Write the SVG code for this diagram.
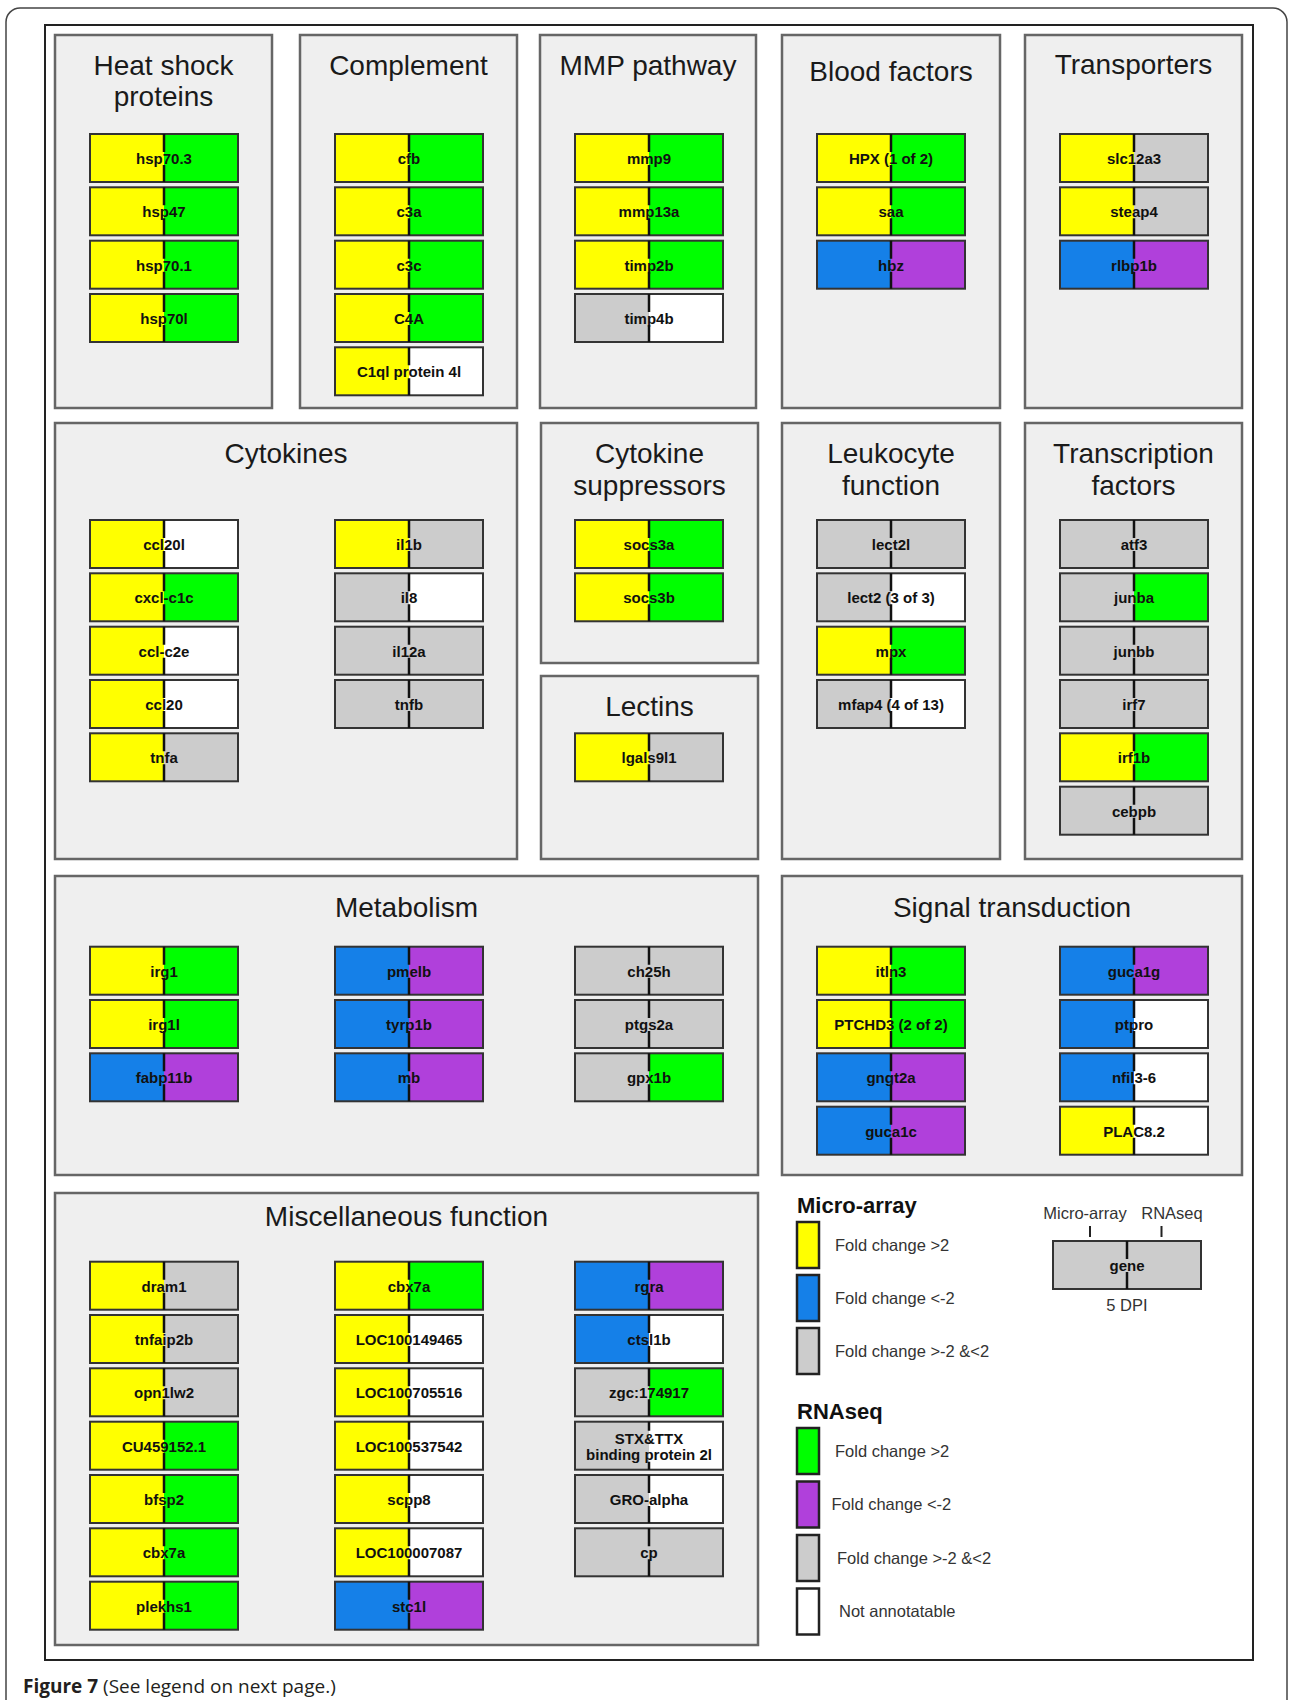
<svg xmlns="http://www.w3.org/2000/svg" xmlns:xlink="http://www.w3.org/1999/xlink" width="1289" height="1700" viewBox="0 0 1289 1700">
<style>
.Y{fill:#ffff00}.G{fill:#00ff00}.B{fill:#1580e8}.P{fill:#b040db}.R{fill:#cccccc}.W{fill:#ffffff}
.fr{fill:none;stroke:#333;stroke-width:2}
.dv{stroke:#111;stroke-width:2.5;fill:none}
.pn{fill:#efefef;stroke:#666;stroke-width:2.5}
.tt{font-family:"Liberation Sans",Arial,sans-serif;font-size:28px;fill:#1a1a1a;text-anchor:middle}
.gl{font-family:"Liberation Sans",Arial,sans-serif;font-weight:bold;font-size:15px;fill:#111;text-anchor:middle}
.lt{font-family:"Liberation Sans",Arial,sans-serif;font-weight:bold;font-size:22px;fill:#111}
.ll{font-family:"Liberation Sans",Arial,sans-serif;font-size:16.5px;fill:#333}
.sw{stroke:#222;stroke-width:2.5}
.cap{font-family:"Open Sans","Liberation Sans",sans-serif;font-size:19px;fill:#231f20}
</style>
<defs>
<g id="fr"><rect class="fr" width="148" height="48"/><path class="dv" d="M74 0V18M74 31V48"/></g>
</defs>
<rect width="1289" height="1700" fill="#fff"/>
<rect x="6" y="8" width="1281" height="1720" rx="14" fill="none" stroke="#444" stroke-width="1.5"/>
<rect x="45" y="25" width="1208" height="1635" fill="#fff" stroke="#222" stroke-width="2"/>

<g id="panels">
<g id="p-heat"><rect class="pn" x="55" y="35" width="217" height="373"/><text class="tt" x="163.5" y="75">Heat shock</text><text class="tt" x="163.5" y="106">proteins</text></g>
<g id="p-complement"><rect class="pn" x="300" y="35" width="217" height="373"/><text class="tt" x="408.5" y="75">Complement</text></g>
<g id="p-mmp"><rect class="pn" x="540" y="35" width="216" height="373"/><text class="tt" x="648" y="75">MMP pathway</text></g>
<g id="p-blood"><rect class="pn" x="782" y="35" width="218" height="373"/><text class="tt" x="891" y="81">Blood factors</text></g>
<g id="p-transporters"><rect class="pn" x="1025" y="35" width="217" height="373"/><text class="tt" x="1133.5" y="74">Transporters</text></g>
<g id="p-cytokines"><rect class="pn" x="55" y="423" width="462" height="436"/><text class="tt" x="286" y="463">Cytokines</text></g>
<g id="p-cytosupp"><rect class="pn" x="541" y="423" width="217" height="240"/><text class="tt" x="649.5" y="463">Cytokine</text><text class="tt" x="649.5" y="495">suppressors</text></g>
<g id="p-lectins"><rect class="pn" x="541" y="676" width="217" height="183"/><text class="tt" x="649.5" y="716">Lectins</text></g>
<g id="p-leukocyte"><rect class="pn" x="782" y="423" width="218" height="436"/><text class="tt" x="891" y="463">Leukocyte</text><text class="tt" x="891" y="495">function</text></g>
<g id="p-transcription"><rect class="pn" x="1025" y="423" width="217" height="436"/><text class="tt" x="1133.5" y="463">Transcription</text><text class="tt" x="1133.5" y="495">factors</text></g>
<g id="p-metabolism"><rect class="pn" x="55" y="876" width="703" height="299"/><text class="tt" x="406.5" y="917">Metabolism</text></g>
<g id="p-signal"><rect class="pn" x="782" y="876" width="460" height="299"/><text class="tt" x="1012" y="917">Signal transduction</text></g>
<g id="p-misc"><rect class="pn" x="55" y="1193" width="703" height="452"/><text class="tt" x="406.5" y="1226">Miscellaneous function</text></g>
</g>

<g id="connectors"></g>

<g id="genes">
<!-- Heat shock -->
<g id="n-hsp70-3" transform="translate(90,134)"><rect class="Y" width="74" height="48"/><rect class="G" x="74" width="74" height="48"/><use href="#fr"/><text class="gl" x="74" y="30">hsp70.3</text></g>
<g id="n-hsp47" transform="translate(90,187.3)"><rect class="Y" width="74" height="48"/><rect class="G" x="74" width="74" height="48"/><use href="#fr"/><text class="gl" x="74" y="30">hsp47</text></g>
<g id="n-hsp70-1" transform="translate(90,240.7)"><rect class="Y" width="74" height="48"/><rect class="G" x="74" width="74" height="48"/><use href="#fr"/><text class="gl" x="74" y="30">hsp70.1</text></g>
<g id="n-hsp70l" transform="translate(90,294)"><rect class="Y" width="74" height="48"/><rect class="G" x="74" width="74" height="48"/><use href="#fr"/><text class="gl" x="74" y="30">hsp70l</text></g>
<!-- Complement -->
<g id="n-cfb" transform="translate(335,134)"><rect class="Y" width="74" height="48"/><rect class="G" x="74" width="74" height="48"/><use href="#fr"/><text class="gl" x="74" y="30">cfb</text></g>
<g id="n-c3a" transform="translate(335,187.3)"><rect class="Y" width="74" height="48"/><rect class="G" x="74" width="74" height="48"/><use href="#fr"/><text class="gl" x="74" y="30">c3a</text></g>
<g id="n-c3c" transform="translate(335,240.7)"><rect class="Y" width="74" height="48"/><rect class="G" x="74" width="74" height="48"/><use href="#fr"/><text class="gl" x="74" y="30">c3c</text></g>
<g id="n-c4a" transform="translate(335,294)"><rect class="Y" width="74" height="48"/><rect class="G" x="74" width="74" height="48"/><use href="#fr"/><text class="gl" x="74" y="30">C4A</text></g>
<g id="n-c1ql" transform="translate(335,347.3)"><rect class="Y" width="74" height="48"/><rect class="W" x="74" width="74" height="48"/><use href="#fr"/><text class="gl" x="74" y="30">C1ql protein 4l</text></g>
<!-- MMP -->
<g id="n-mmp9" transform="translate(575,134)"><rect class="Y" width="74" height="48"/><rect class="G" x="74" width="74" height="48"/><use href="#fr"/><text class="gl" x="74" y="30">mmp9</text></g>
<g id="n-mmp13a" transform="translate(575,187.3)"><rect class="Y" width="74" height="48"/><rect class="G" x="74" width="74" height="48"/><use href="#fr"/><text class="gl" x="74" y="30">mmp13a</text></g>
<g id="n-timp2b" transform="translate(575,240.7)"><rect class="Y" width="74" height="48"/><rect class="G" x="74" width="74" height="48"/><use href="#fr"/><text class="gl" x="74" y="30">timp2b</text></g>
<g id="n-timp4b" transform="translate(575,294)"><rect class="R" width="74" height="48"/><rect class="W" x="74" width="74" height="48"/><use href="#fr"/><text class="gl" x="74" y="30">timp4b</text></g>
<!-- Blood -->
<g id="n-hpx" transform="translate(817,134)"><rect class="Y" width="74" height="48"/><rect class="G" x="74" width="74" height="48"/><use href="#fr"/><text class="gl" x="74" y="30">HPX (1 of 2)</text></g>
<g id="n-saa" transform="translate(817,187.3)"><rect class="Y" width="74" height="48"/><rect class="G" x="74" width="74" height="48"/><use href="#fr"/><text class="gl" x="74" y="30">saa</text></g>
<g id="n-hbz" transform="translate(817,240.7)"><rect class="B" width="74" height="48"/><rect class="P" x="74" width="74" height="48"/><use href="#fr"/><text class="gl" x="74" y="30">hbz</text></g>
<!-- Transporters -->
<g id="n-slc12a3" transform="translate(1060,134)"><rect class="Y" width="74" height="48"/><rect class="R" x="74" width="74" height="48"/><use href="#fr"/><text class="gl" x="74" y="30">slc12a3</text></g>
<g id="n-steap4" transform="translate(1060,187.3)"><rect class="Y" width="74" height="48"/><rect class="R" x="74" width="74" height="48"/><use href="#fr"/><text class="gl" x="74" y="30">steap4</text></g>
<g id="n-rlbp1b" transform="translate(1060,240.7)"><rect class="B" width="74" height="48"/><rect class="P" x="74" width="74" height="48"/><use href="#fr"/><text class="gl" x="74" y="30">rlbp1b</text></g>
<!-- Cytokines -->
<g id="n-ccl20l" transform="translate(90,520)"><rect class="Y" width="74" height="48"/><rect class="W" x="74" width="74" height="48"/><use href="#fr"/><text class="gl" x="74" y="30">ccl20l</text></g>
<g id="n-cxcl-c1c" transform="translate(90,573.3)"><rect class="Y" width="74" height="48"/><rect class="G" x="74" width="74" height="48"/><use href="#fr"/><text class="gl" x="74" y="30">cxcl-c1c</text></g>
<g id="n-ccl-c2e" transform="translate(90,626.7)"><rect class="Y" width="74" height="48"/><rect class="W" x="74" width="74" height="48"/><use href="#fr"/><text class="gl" x="74" y="30">ccl-c2e</text></g>
<g id="n-ccl20" transform="translate(90,680)"><rect class="Y" width="74" height="48"/><rect class="W" x="74" width="74" height="48"/><use href="#fr"/><text class="gl" x="74" y="30">ccl20</text></g>
<g id="n-tnfa" transform="translate(90,733.3)"><rect class="Y" width="74" height="48"/><rect class="R" x="74" width="74" height="48"/><use href="#fr"/><text class="gl" x="74" y="30">tnfa</text></g>
<g id="n-il1b" transform="translate(335,520)"><rect class="Y" width="74" height="48"/><rect class="R" x="74" width="74" height="48"/><use href="#fr"/><text class="gl" x="74" y="30">il1b</text></g>
<g id="n-il8" transform="translate(335,573.3)"><rect class="R" width="74" height="48"/><rect class="W" x="74" width="74" height="48"/><use href="#fr"/><text class="gl" x="74" y="30">il8</text></g>
<g id="n-il12a" transform="translate(335,626.7)"><rect class="R" width="74" height="48"/><rect class="R" x="74" width="74" height="48"/><use href="#fr"/><text class="gl" x="74" y="30">il12a</text></g>
<g id="n-tnfb" transform="translate(335,680)"><rect class="R" width="74" height="48"/><rect class="R" x="74" width="74" height="48"/><use href="#fr"/><text class="gl" x="74" y="30">tnfb</text></g>
<!-- Cytokine suppressors -->
<g id="n-socs3a" transform="translate(575,520)"><rect class="Y" width="74" height="48"/><rect class="G" x="74" width="74" height="48"/><use href="#fr"/><text class="gl" x="74" y="30">socs3a</text></g>
<g id="n-socs3b" transform="translate(575,573.3)"><rect class="Y" width="74" height="48"/><rect class="G" x="74" width="74" height="48"/><use href="#fr"/><text class="gl" x="74" y="30">socs3b</text></g>
<!-- Lectins -->
<g id="n-lgals9l1" transform="translate(575,733.3)"><rect class="Y" width="74" height="48"/><rect class="R" x="74" width="74" height="48"/><use href="#fr"/><text class="gl" x="74" y="30">lgals9l1</text></g>
<!-- Leukocyte -->
<g id="n-lect2l" transform="translate(817,520)"><rect class="R" width="74" height="48"/><rect class="R" x="74" width="74" height="48"/><use href="#fr"/><text class="gl" x="74" y="30">lect2l</text></g>
<g id="n-lect2" transform="translate(817,573.3)"><rect class="R" width="74" height="48"/><rect class="W" x="74" width="74" height="48"/><use href="#fr"/><text class="gl" x="74" y="30">lect2 (3 of 3)</text></g>
<g id="n-mpx" transform="translate(817,626.7)"><rect class="Y" width="74" height="48"/><rect class="G" x="74" width="74" height="48"/><use href="#fr"/><text class="gl" x="74" y="30">mpx</text></g>
<g id="n-mfap4" transform="translate(817,680)"><rect class="R" width="74" height="48"/><rect class="W" x="74" width="74" height="48"/><use href="#fr"/><text class="gl" x="74" y="30">mfap4 (4 of 13)</text></g>
<!-- Transcription -->
<g id="n-atf3" transform="translate(1060,520)"><rect class="R" width="74" height="48"/><rect class="R" x="74" width="74" height="48"/><use href="#fr"/><text class="gl" x="74" y="30">atf3</text></g>
<g id="n-junba" transform="translate(1060,573.3)"><rect class="R" width="74" height="48"/><rect class="G" x="74" width="74" height="48"/><use href="#fr"/><text class="gl" x="74" y="30">junba</text></g>
<g id="n-junbb" transform="translate(1060,626.7)"><rect class="R" width="74" height="48"/><rect class="R" x="74" width="74" height="48"/><use href="#fr"/><text class="gl" x="74" y="30">junbb</text></g>
<g id="n-irf7" transform="translate(1060,680)"><rect class="R" width="74" height="48"/><rect class="R" x="74" width="74" height="48"/><use href="#fr"/><text class="gl" x="74" y="30">irf7</text></g>
<g id="n-irf1b" transform="translate(1060,733.3)"><rect class="Y" width="74" height="48"/><rect class="G" x="74" width="74" height="48"/><use href="#fr"/><text class="gl" x="74" y="30">irf1b</text></g>
<g id="n-cebpb" transform="translate(1060,786.7)"><rect class="R" width="74" height="48"/><rect class="R" x="74" width="74" height="48"/><use href="#fr"/><text class="gl" x="74" y="30">cebpb</text></g>
<!-- Metabolism -->
<g id="n-irg1" transform="translate(90,946.7)"><rect class="Y" width="74" height="48"/><rect class="G" x="74" width="74" height="48"/><use href="#fr"/><text class="gl" x="74" y="30">irg1</text></g>
<g id="n-irg1l" transform="translate(90,1000)"><rect class="Y" width="74" height="48"/><rect class="G" x="74" width="74" height="48"/><use href="#fr"/><text class="gl" x="74" y="30">irg1l</text></g>
<g id="n-fabp11b" transform="translate(90,1053.3)"><rect class="B" width="74" height="48"/><rect class="P" x="74" width="74" height="48"/><use href="#fr"/><text class="gl" x="74" y="30">fabp11b</text></g>
<g id="n-pmelb" transform="translate(335,946.7)"><rect class="B" width="74" height="48"/><rect class="P" x="74" width="74" height="48"/><use href="#fr"/><text class="gl" x="74" y="30">pmelb</text></g>
<g id="n-tyrp1b" transform="translate(335,1000)"><rect class="B" width="74" height="48"/><rect class="P" x="74" width="74" height="48"/><use href="#fr"/><text class="gl" x="74" y="30">tyrp1b</text></g>
<g id="n-mb" transform="translate(335,1053.3)"><rect class="B" width="74" height="48"/><rect class="P" x="74" width="74" height="48"/><use href="#fr"/><text class="gl" x="74" y="30">mb</text></g>
<g id="n-ch25h" transform="translate(575,946.7)"><rect class="R" width="74" height="48"/><rect class="R" x="74" width="74" height="48"/><use href="#fr"/><text class="gl" x="74" y="30">ch25h</text></g>
<g id="n-ptgs2a" transform="translate(575,1000)"><rect class="R" width="74" height="48"/><rect class="R" x="74" width="74" height="48"/><use href="#fr"/><text class="gl" x="74" y="30">ptgs2a</text></g>
<g id="n-gpx1b" transform="translate(575,1053.3)"><rect class="R" width="74" height="48"/><rect class="G" x="74" width="74" height="48"/><use href="#fr"/><text class="gl" x="74" y="30">gpx1b</text></g>
<!-- Signal transduction -->
<g id="n-itln3" transform="translate(817,946.7)"><rect class="Y" width="74" height="48"/><rect class="G" x="74" width="74" height="48"/><use href="#fr"/><text class="gl" x="74" y="30">itln3</text></g>
<g id="n-ptchd3" transform="translate(817,1000)"><rect class="Y" width="74" height="48"/><rect class="G" x="74" width="74" height="48"/><use href="#fr"/><text class="gl" x="74" y="30">PTCHD3 (2 of 2)</text></g>
<g id="n-gngt2a" transform="translate(817,1053.3)"><rect class="B" width="74" height="48"/><rect class="P" x="74" width="74" height="48"/><use href="#fr"/><text class="gl" x="74" y="30">gngt2a</text></g>
<g id="n-guca1c" transform="translate(817,1106.7)"><rect class="B" width="74" height="48"/><rect class="P" x="74" width="74" height="48"/><use href="#fr"/><text class="gl" x="74" y="30">guca1c</text></g>
<g id="n-guca1g" transform="translate(1060,946.7)"><rect class="B" width="74" height="48"/><rect class="P" x="74" width="74" height="48"/><use href="#fr"/><text class="gl" x="74" y="30">guca1g</text></g>
<g id="n-ptpro" transform="translate(1060,1000)"><rect class="B" width="74" height="48"/><rect class="W" x="74" width="74" height="48"/><use href="#fr"/><text class="gl" x="74" y="30">ptpro</text></g>
<g id="n-nfil3-6" transform="translate(1060,1053.3)"><rect class="B" width="74" height="48"/><rect class="W" x="74" width="74" height="48"/><use href="#fr"/><text class="gl" x="74" y="30">nfil3-6</text></g>
<g id="n-plac8-2" transform="translate(1060,1106.7)"><rect class="Y" width="74" height="48"/><rect class="W" x="74" width="74" height="48"/><use href="#fr"/><text class="gl" x="74" y="30">PLAC8.2</text></g>
<!-- Miscellaneous col 1 -->
<g id="n-dram1" transform="translate(90,1261.7)"><rect class="Y" width="74" height="48"/><rect class="R" x="74" width="74" height="48"/><use href="#fr"/><text class="gl" x="74" y="30">dram1</text></g>
<g id="n-tnfaip2b" transform="translate(90,1315)"><rect class="Y" width="74" height="48"/><rect class="R" x="74" width="74" height="48"/><use href="#fr"/><text class="gl" x="74" y="30">tnfaip2b</text></g>
<g id="n-opn1lw2" transform="translate(90,1368.3)"><rect class="Y" width="74" height="48"/><rect class="R" x="74" width="74" height="48"/><use href="#fr"/><text class="gl" x="74" y="30">opn1lw2</text></g>
<g id="n-cu459152" transform="translate(90,1421.7)"><rect class="Y" width="74" height="48"/><rect class="G" x="74" width="74" height="48"/><use href="#fr"/><text class="gl" x="74" y="30">CU459152.1</text></g>
<g id="n-bfsp2" transform="translate(90,1475)"><rect class="Y" width="74" height="48"/><rect class="G" x="74" width="74" height="48"/><use href="#fr"/><text class="gl" x="74" y="30">bfsp2</text></g>
<g id="n-cbx7a-1" transform="translate(90,1528.3)"><rect class="Y" width="74" height="48"/><rect class="G" x="74" width="74" height="48"/><use href="#fr"/><text class="gl" x="74" y="30">cbx7a</text></g>
<g id="n-plekhs1" transform="translate(90,1581.7)"><rect class="Y" width="74" height="48"/><rect class="G" x="74" width="74" height="48"/><use href="#fr"/><text class="gl" x="74" y="30">plekhs1</text></g>
<!-- Miscellaneous col 2 -->
<g id="n-cbx7a-2" transform="translate(335,1261.7)"><rect class="Y" width="74" height="48"/><rect class="G" x="74" width="74" height="48"/><use href="#fr"/><text class="gl" x="74" y="30">cbx7a</text></g>
<g id="n-loc100149465" transform="translate(335,1315)"><rect class="Y" width="74" height="48"/><rect class="W" x="74" width="74" height="48"/><use href="#fr"/><text class="gl" x="74" y="30">LOC100149465</text></g>
<g id="n-loc100705516" transform="translate(335,1368.3)"><rect class="Y" width="74" height="48"/><rect class="W" x="74" width="74" height="48"/><use href="#fr"/><text class="gl" x="74" y="30">LOC100705516</text></g>
<g id="n-loc100537542" transform="translate(335,1421.7)"><rect class="Y" width="74" height="48"/><rect class="W" x="74" width="74" height="48"/><use href="#fr"/><text class="gl" x="74" y="30">LOC100537542</text></g>
<g id="n-scpp8" transform="translate(335,1475)"><rect class="Y" width="74" height="48"/><rect class="W" x="74" width="74" height="48"/><use href="#fr"/><text class="gl" x="74" y="30">scpp8</text></g>
<g id="n-loc100007087" transform="translate(335,1528.3)"><rect class="Y" width="74" height="48"/><rect class="W" x="74" width="74" height="48"/><use href="#fr"/><text class="gl" x="74" y="30">LOC100007087</text></g>
<g id="n-stc1l" transform="translate(335,1581.7)"><rect class="B" width="74" height="48"/><rect class="P" x="74" width="74" height="48"/><use href="#fr"/><text class="gl" x="74" y="30">stc1l</text></g>
<!-- Miscellaneous col 3 -->
<g id="n-rgra" transform="translate(575,1261.7)"><rect class="B" width="74" height="48"/><rect class="P" x="74" width="74" height="48"/><use href="#fr"/><text class="gl" x="74" y="30">rgra</text></g>
<g id="n-ctsl1b" transform="translate(575,1315)"><rect class="B" width="74" height="48"/><rect class="W" x="74" width="74" height="48"/><use href="#fr"/><text class="gl" x="74" y="30">ctsl1b</text></g>
<g id="n-zgc174917" transform="translate(575,1368.3)"><rect class="R" width="74" height="48"/><rect class="G" x="74" width="74" height="48"/><use href="#fr"/><text class="gl" x="74" y="30">zgc:174917</text></g>
<g id="n-stx-ttx" transform="translate(575,1421.7)"><rect class="R" width="74" height="48"/><rect class="W" x="74" width="74" height="48"/><rect class="fr" width="148" height="48"/><path class="dv" d="M74 0V9M74 40V48"/><text class="gl" x="74" y="22">STX&amp;TTX</text><text class="gl" x="74" y="38.5">binding protein 2l</text></g>
<g id="n-gro-alpha" transform="translate(575,1475)"><rect class="R" width="74" height="48"/><rect class="W" x="74" width="74" height="48"/><use href="#fr"/><text class="gl" x="74" y="30">GRO-alpha</text></g>
<g id="n-cp" transform="translate(575,1528.3)"><rect class="R" width="74" height="48"/><rect class="R" x="74" width="74" height="48"/><use href="#fr"/><text class="gl" x="74" y="30">cp</text></g>
</g>

<g id="legend">
<text class="lt" x="797" y="1213">Micro-array</text>
<rect class="sw Y" x="797" y="1222" width="22" height="46"/><text class="ll" x="835" y="1251">Fold change &gt;2</text>
<rect class="sw B" x="797" y="1275" width="22" height="46"/><text class="ll" x="835" y="1304">Fold change &lt;-2</text>
<rect class="sw R" x="797" y="1328" width="22" height="46"/><text class="ll" x="835" y="1357">Fold change &gt;-2 &amp;&lt;2</text>
<text class="lt" x="797" y="1419">RNAseq</text>
<rect class="sw G" x="797" y="1428" width="22" height="46"/><text class="ll" x="835" y="1457">Fold change &gt;2</text>
<rect class="sw P" x="797" y="1481.5" width="22" height="46"/><text class="ll" x="831.5" y="1510">Fold change &lt;-2</text>
<rect class="sw R" x="797" y="1535" width="22" height="46"/><text class="ll" x="837" y="1564">Fold change &gt;-2 &amp;&lt;2</text>
<rect class="sw W" x="797" y="1588.5" width="22" height="46"/><text class="ll" x="839" y="1617">Not annotatable</text>
</g>

<g id="key">
<text class="ll" x="1085" y="1219" text-anchor="middle" font-size="16">Micro-array</text>
<text class="ll" x="1172" y="1219" text-anchor="middle" font-size="16">RNAseq</text>
<path d="M1090 1226V1237M1161.5 1226V1237" stroke="#222" stroke-width="2"/>
<g id="n-gene" transform="translate(1053,1241)"><rect class="R" width="74" height="48"/><rect class="R" x="74" width="74" height="48"/><use href="#fr"/><text class="gl" x="74" y="30">gene</text></g>
<text class="ll" x="1127" y="1311" text-anchor="middle" font-size="16">5 DPI</text>
</g>

<text class="cap" x="23" y="1693"><tspan font-weight="bold">Figure 7</tspan> (See legend on next page.)</text>
</svg>
